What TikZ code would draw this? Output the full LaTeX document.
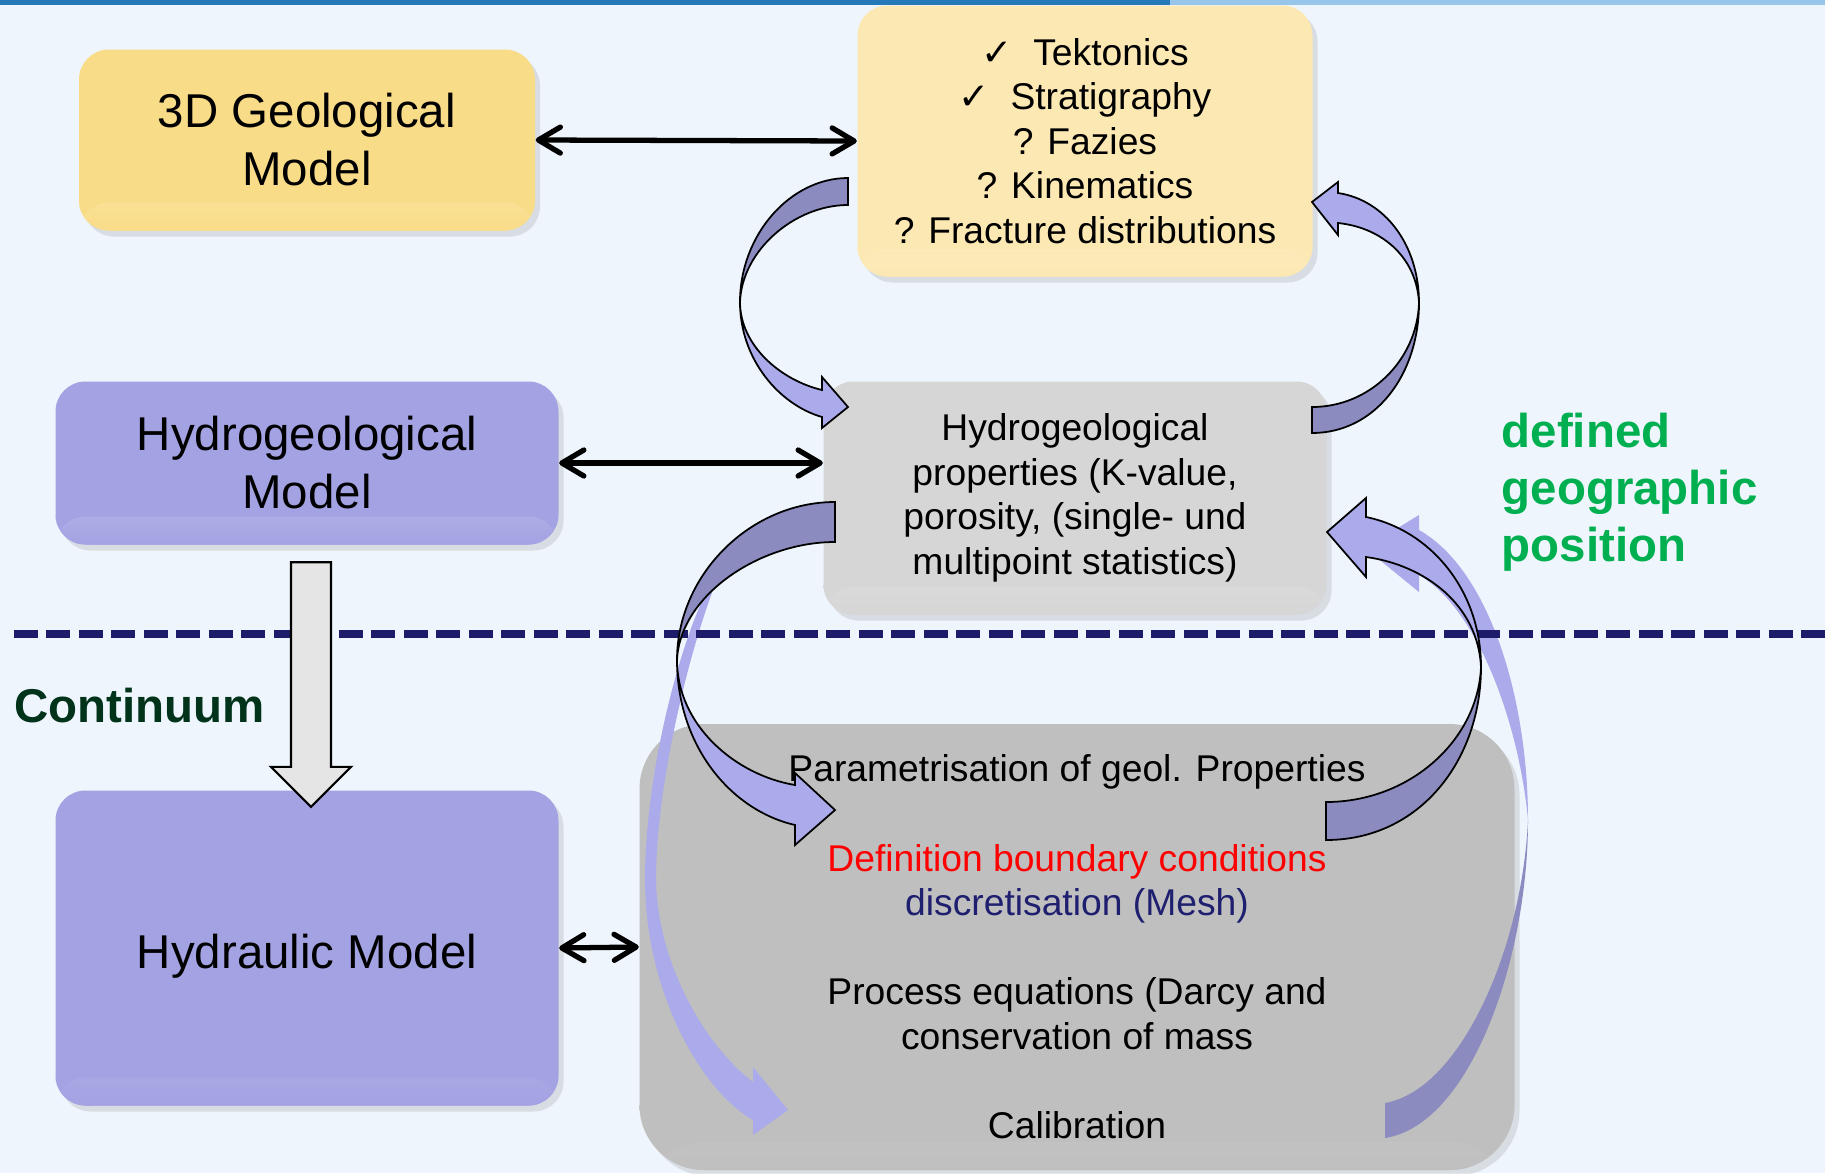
\documentclass[tikz,border=0pt]{standalone}
\usepackage{fontspec}
\setmainfont{Liberation Sans}
\newfontfamily\symfont{DejaVu Sans}
\usetikzlibrary{arrows.meta,shadows,calc}

\definecolor{bgcol}{HTML}{EEF5FC}
\definecolor{bardark}{HTML}{2679B8}
\definecolor{barlight}{HTML}{97C6EA}
\definecolor{geoyellow}{HTML}{F9DC88}
\definecolor{tektyellow}{HTML}{FCE8B3}
\definecolor{hydroblue}{HTML}{A3A2E3}
\definecolor{propgrey}{HTML}{D6D6D6}
\definecolor{modelgrey}{HTML}{BFBFBF}
\definecolor{arcdark}{HTML}{8B8BC0}
\definecolor{arclight}{HTML}{ABABEB}
\definecolor{navyline}{HTML}{1C1C6B}
\definecolor{meshblue}{HTML}{1F1F70}
\definecolor{darkgreen}{HTML}{00331A}
\definecolor{posgreen}{HTML}{00B050}

\newcommand{\bigtext}{\fontsize{13.5}{16.5}\selectfont}
\newcommand{\smalltext}{\fontsize{10.6}{12.7}\selectfont}
\newcommand{\tick}{{\symfont ✓}~~}

\begin{document}
\begin{tikzpicture}[x=0.1mm, y=-0.1mm, >={Straight Barb[length=2.2mm, width=2.6mm, round]}]

	\tikzset{box_fill/.style={fill=#1, path picture={\shade[top color=white!70!#1, bottom color=#1]
			([yshift=2.8mm]path picture bounding box.south west) rectangle (path picture bounding box.south east);}}}
	\tikzstyle{box_base} = [rounded corners=3mm, inner sep=0pt, align=center,
		drop shadow={shadow xshift=0.5mm, shadow yshift=-0.6mm, opacity=0.2}]
	\tikzstyle{box_geo}   = [box_base, box_fill=geoyellow, minimum width=45.6mm, font=\bigtext]
	\tikzstyle{box_tekt}  = [box_base, box_fill=tektyellow, minimum width=45.5mm, font=\smalltext]
	\tikzstyle{box_hydro} = [box_base, box_fill=hydroblue, minimum width=50.3mm, font=\bigtext]
	\tikzstyle{box_prop}  = [box_base, box_fill=propgrey, minimum width=50.3mm, font=\smalltext]
	\tikzstyle{box_model} = [box_base, box_fill=modelgrey, rounded corners=6.5mm, minimum width=87.5mm, font=\smalltext]
	\tikzstyle{link} = [<->, line width=1.5pt]
	\tikzstyle{arc_back}  = [fill=arcdark, draw=black, line width=0.5pt]
	\tikzstyle{arc_front} = [fill=arclight, draw=black, line width=0.5pt]
	\tikzstyle{arc_ghost} = [fill=arclight]
	\tikzstyle{sep_line} = [navyline, line width=0.85mm, dash pattern=on 2.4mm off 0.85mm]
	\tikzstyle{block_arrow} = [fill=black!10, draw=black, line width=0.6pt]

%------------------------------------------------------------
	\useasboundingbox (0,0) rectangle (1825,1173);
	\fill[bgcol] (0,0) rectangle (1825,1173);
	\fill[bardark] (0,0) rectangle (1170,5);
	\fill[barlight] (1170,0) rectangle (1825,5);

%------------------------------------------------------------
	\node[box_geo, minimum height=18.1mm] (geo) at (307,140) {3D Geological\\Model};
	\node[box_tekt, minimum height=27.1mm] (tekt) at (1085,141)
		{\tick Tektonics\\\tick Stratigraphy\\? Fazies\\? Kinematics\\? Fracture distributions};

	\node[box_hydro, minimum height=16.3mm] (hydro) at (307,463) {Hydrogeological\\Model};
	\node[box_prop, minimum height=23.3mm] (props) at (1075,498)
		{Hydrogeological\\properties (K-value,\\porosity, (single- und\\multipoint statistics)};

	\node[box_hydro, minimum height=31.5mm] (hydraulic) at (307,948) {\raisebox{0pt}[14.3pt][2.9pt]{Hydraulic Model}};
	\node[box_model, minimum height=44.6mm] (model) at (1077,947)
		{Parametrisation of geol. Properties\\[12.7pt]
		 \textcolor{red}{Definition boundary conditions}\\
		 \textcolor{meshblue}{discretisation (Mesh)}\\[12.7pt]
		 Process equations (Darcy and\\conservation of mass\\[12.7pt]
		 Calibration};

%------------------------------------------------------------
	% faint arcs behind
	\fill[arc_ghost] (726,560) .. controls (690,600) and (645,760) .. (645,880)
		.. controls (645,990) and (700,1090) .. (753,1120) -- (753,1135) -- (788,1110) -- (753,1067) -- (753,1082)
		.. controls (710,1050) and (658,970) .. (656,880) .. controls (656,770) and (700,610) .. (726,560) -- cycle;
	\fill[arc_ghost] (1528,820) .. controls (1528,700) and (1490,570) .. (1419,530) -- (1419,515) -- (1365,548)
		-- (1419,592) -- (1419,575) .. controls (1480,610) and (1520,730) .. (1528,820) -- cycle;
	\fill[arcdark] (1528,820) .. controls (1528,960) and (1470,1125) .. (1385,1138) -- (1385,1103)
		.. controls (1460,1090) and (1522,950) .. (1528,820) -- cycle;

	\draw[sep_line] (14,634) -- (1825,634);

%------------------------------------------------------------
	% tektonics -> properties
	\filldraw[arc_back] (848,178) .. controls (790,178) and (740,235) .. (740,302)
		.. controls (742,250) and (795,205) .. (848,205) -- cycle;
	\filldraw[arc_front] (740,302) .. controls (740,360) and (780,405) .. (822,417)
		-- (822,428) -- (848,407) -- (822,377) -- (822,390)
		.. controls (780,380) and (740,345) .. (740,302) -- cycle;

	% properties -> tektonics
	\filldraw[arc_back] (1312,433) .. controls (1375,433) and (1419,375) .. (1419,303)
		.. controls (1417,360) and (1370,407) .. (1312,407) -- cycle;
	\filldraw[arc_front] (1419,303) .. controls (1419,245) and (1385,200) .. (1338,193)
		-- (1338,182) -- (1312,202) -- (1338,235) -- (1338,223)
		.. controls (1385,228) and (1417,260) .. (1419,303) -- cycle;

	% properties -> model
	\filldraw[arc_back] (835,502) .. controls (750,502) and (677,575) .. (677,660)
		.. controls (680,595) and (760,542) .. (835,542) -- cycle;
	\filldraw[arc_front] (677,660) .. controls (677,745) and (730,810) .. (795,825)
		-- (795,845) -- (835,810) -- (795,773) -- (795,785)
		.. controls (735,775) and (677,725) .. (677,660) -- cycle;

	% model -> properties
	\filldraw[arc_back] (1326,840) .. controls (1420,840) and (1481,760) .. (1481,667)
		.. controls (1478,740) and (1410,802) .. (1326,802) -- cycle;
	\filldraw[arc_front] (1481,667) .. controls (1481,590) and (1430,530) .. (1366,517)
		-- (1366,498) -- (1327,532) -- (1366,577) -- (1366,557)
		.. controls (1425,565) and (1478,605) .. (1481,667) -- cycle;

%------------------------------------------------------------
	\draw[link] (geo.east) -- (tekt.west);
	\draw[link] (hydro.east) -- (hydro.east -| props.west);
	\draw[link] (hydraulic.east) -- (model.west);

	\coordinate (bt) at ($(hydro.south)+(4,17)$);
	\coordinate (bh) at ($(hydraulic.north)+(4,17)$);
	\draw[block_arrow] ($(bt)+(-20,0)$) -- ($(bt)+(20,0)$) -- ($(bh)+(20,-40)$) -- ($(bh)+(40,-40)$)
		-- (bh) -- ($(bh)+(-40,-40)$) -- ($(bh)+(-20,-40)$) -- cycle;

%------------------------------------------------------------
	\node[anchor=west, inner sep=0pt, text=darkgreen, font=\bigtext\bfseries] (continuum) at (14,706) {Continuum};
	\node[anchor=west, inner sep=0pt, align=left, text=posgreen, font=\fontsize{13.5}{16.2}\selectfont\bfseries]
		(position) at (1501,492) {defined\\geographic\\position};

\end{tikzpicture}
\end{document}
